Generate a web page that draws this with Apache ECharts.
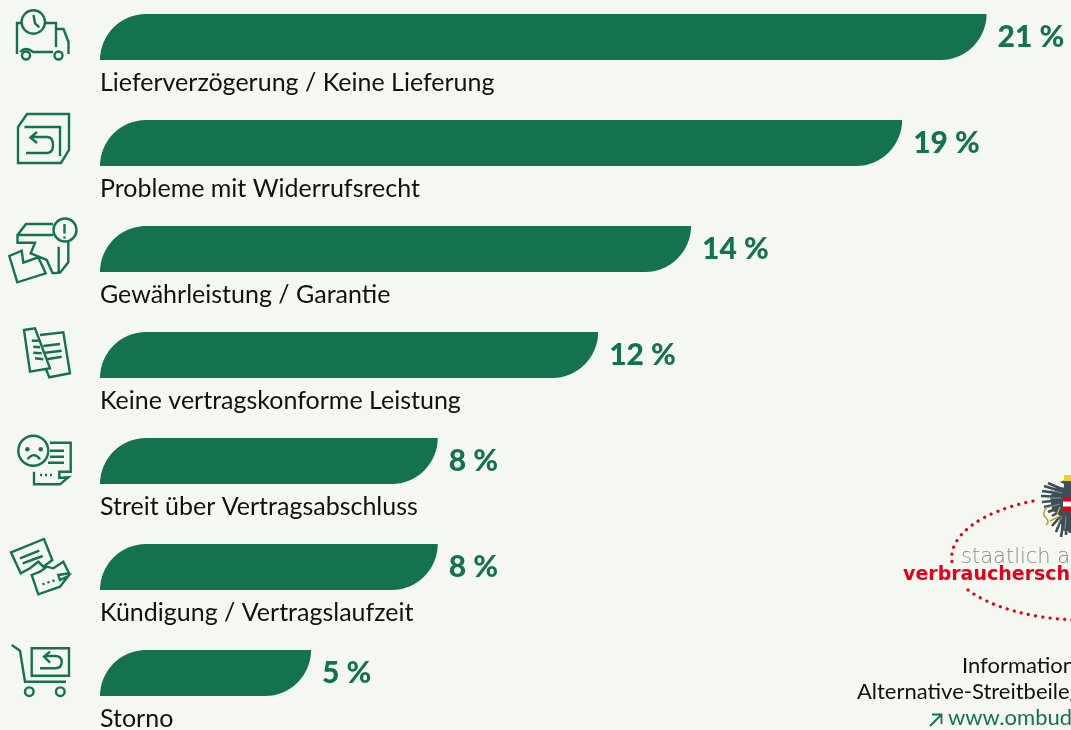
<!DOCTYPE html>
<html>
<head>
<meta charset="utf-8">
<style>
  html, body { margin: 0; padding: 0; background: #f5f8f0; overflow: hidden; }
  #main { width: 1071px; height: 730px; }
</style>
<script src="https://cdn.jsdelivr.net/npm/echarts@6/dist/echarts.min.js"></script>
</head>
<body>
<div id="main"></div>
<script>
const categories = [
  "Lieferverzögerung / Keine Lieferung",
  "Probleme mit Widerrufsrecht",
  "Gewährleistung / Garantie",
  "Keine vertragskonforme Leistung",
  "Streit über Vertragsabschluss",
  "Kündigung / Vertragslaufzeit",
  "Storno",
];
const barValues = [21, 19, 14, 11.8, 8, 8, 5];
const percentLabels = ["21 %", "19 %", "14 %", "12 %", "8 %", "8 %", "5 %"];

const GREEN = "#14724e";
const RED = "#e2001a";
const BG = "#f5f8f0";
const FONT = "Lato, 'Noto Sans', sans-serif";

// icons left of the bars, one stroke path each
const iconPaths = [
  "M17,54 V23 H21 M46,23 H56 V47 M56,29 H63.5 L68.5,42 V54 M20,52 Q26,46 33,52 H53",
  "M18,163 V127 L27,114 H69 V150 L61,163 Z M24.5,127 H60 V156 M26,153 H47 Q53,153 53,145 Q53,137 47,137 H31 M37,132 L30.5,137.5 L37,143",
  "M53,224 H26 L17.5,235 V242.7 H35 L30.7,253.3 L46.7,260 L52.7,273.3 L60,272.7 L68.3,262.3 V241.7 M18,235 H53 M58.7,246.7 V271.7 M9.3,256 L21.7,250.7 L23.3,262.7 L38.3,257.3 L45.7,273.3 L17.3,282.3 Z",
  "M24,330 L35,328.3 L50,368.3 L30,371.7 Z M40,335 L63.3,332.3 L70,373.3 L49.3,377.3 L46,369.3 M43.3,346 L60,344 M45,352.7 L61.7,350.7 M46.7,359.3 L61.7,356.7 M31.7,340.7 L38.3,340.7 M33.3,346.7 L40,347.3 M33.3,352.7 L41.7,353.3 M35,358.3 L43.3,359.3",
  "M50,442.7 H70.7 V471.7 H59.3 V478 L68.3,477.3 L60,484.3 H34 V471.7 M50,450.7 H64 M50,456.7 H64 M48,462.7 H64 M40,475 H42 M45,475 H47 M50,475 H52",
  "M11,552.3 L44,539 L52.3,560 L43.3,566.7 L38.3,561.7 L30,568.3 L20.7,573.3 Z M20,558.3 L39.3,550.7 M22.7,563.3 L42.7,556 M31.7,575 L40,571.7 L46.7,566.7 L53.3,568.3 L63.3,561.7 L69,573.3 L58.3,575 L60,580 L68.3,576 L60,586.7 L38.3,594.3 Z M42.5,584.3 L44.5,583.6 M47.5,582.6 L49.5,581.9 M52.5,581 L54.5,580.3",
  "M11.7,645 L20,650.7 L25,681.7 H66 M31.7,648.3 H69 V675.7 H31.7 Z M40,668.3 H55 Q61.7,668.3 61.7,661.7 Q61.7,656 55,656 H45 M50,651.7 L44,656.7 L50,662.7",
];
const iconCircles = [
  [33.3, 22, 11.7], [26, 55.5, 4], [58.5, 55.5, 4],
  [65, 230, 11.5],
  [33.3, 450.7, 15],
  [29.3, 691.7, 4.3], [60.3, 691.7, 4.3],
];
const iconDots = [[27.3, 449.3], [40.7, 449.3]];
// clock hands, exclamation mark and mouth go on top of the circles
const iconDetails = "M33.5,15 L35,23.5 L39.3,27.3 M64.5,224 V233.5 M64.5,236.5 V238.5 M27.5,459.3 Q34,451 40,459.3";

const eagleBody = "M1071,488 L1058,487 L1050,496 L1052,510 L1060,516 L1062,530 L1071,532 Z";
const eagleFeathers = "M1064,490 L1048,483 M1064,492 L1044,486 M1064,494 L1042,491 M1064,497 L1041,496 M1064,500 L1042,502 M1064,503 L1044,507 M1064,506 L1048,512 M1064,509 L1052,516 M1064,512 L1052,526 M1064,512 L1056,532 M1065,512 L1061,537 M1066,512 L1066,535 M1068,512 L1070,533";
const eagleLights = "M1062,493 L1050,490 M1061,498 L1047,498 M1060,504 L1049,507 M1062,516 L1057,527 M1066,516 L1065,529";
const eagleClaws = "M1047,507 Q1041,514 1046,518 Q1050,522 1046,525 M1050,521 L1060,516 M1057,514 L1060,507";
const eagleHead = "M1064,491 L1064,484 L1060,482 L1068,479 L1071,481 V492 Z";
const logoDots = "M1033,501 A138,62 0 0 0 952,562 M968,590 A138,62 0 0 0 1075,620";
const linkArrow = "M930,726 L941,715 M932,714.5 H941.5 V724";

// the graphic component has no plain path type, so each path gets its own shape class
let shapeCount = 0;
const pathEl = (d, style, z) => {
  const type = "chartPath" + shapeCount++;
  echarts.graphic.registerShape(type, echarts.graphic.extendPath(d, {}));
  return { type, style, z };
};
const strokeStyle = { fill: null, stroke: GREEN, lineWidth: 2.4 };

const graphic = [
  ...iconPaths.map((d) => pathEl(d, strokeStyle, 100)),
  ...iconCircles.map(([cx, cy, r]) => ({
    type: "circle",
    shape: { cx, cy, r },
    style: { fill: BG, stroke: GREEN, lineWidth: 2.4 },
    z: 101,
  })),
  ...iconDots.map(([cx, cy]) => ({
    type: "circle",
    shape: { cx, cy, r: 2.2 },
    style: { fill: GREEN },
    z: 102,
  })),
  pathEl(iconDetails, strokeStyle, 102),
  pathEl(logoDots, { fill: null, stroke: RED, lineWidth: 3.2, lineCap: "round", lineDash: [0.1, 7.2] }, 100),
  pathEl(eagleBody, { fill: "#3f4e57" }, 100),
  pathEl(eagleFeathers, { fill: null, stroke: "#3f4e57", lineWidth: 2.6 }, 100),
  pathEl(eagleLights, { fill: null, stroke: "#9aa7ad", lineWidth: 0.8 }, 101),
  pathEl(eagleClaws, { fill: null, stroke: "#b7a13a", lineWidth: 1.6 }, 101),
  pathEl(eagleHead, { fill: "#3f4e57" }, 101),
  { type: "rect", shape: { x: 1064, y: 475, width: 7, height: 6 }, style: { fill: "#f0d020" }, z: 102 },
  { type: "rect", shape: { x: 1063, y: 497, width: 8, height: 14 }, style: { fill: RED }, z: 102 },
  { type: "rect", shape: { x: 1063, y: 501.5, width: 8, height: 5 }, style: { fill: "#ffffff" }, z: 103 },
  // logo and footer text
  { type: "text", x: 961, y: 547, z: 100, style: { text: "staatlich anerkannte", fill: "#8c8c8c", font: "200 21px 'DejaVu Sans', sans-serif" } },
  { type: "text", x: 903, y: 566, z: 100, style: { text: "verbraucherschlichtung", fill: RED, font: "bold 19px 'DejaVu Sans', sans-serif" } },
  { type: "text", x: 962, y: 655, z: 100, style: { text: "Informationen", fill: "#111111", font: "22px " + FONT } },
  { type: "text", x: 857, y: 681, z: 100, style: { text: "Alternative-Streitbeilegung", fill: "#111111", font: "22px " + FONT } },
  { type: "text", x: 948, y: 707, z: 100, style: { text: "www.ombudsstelle.at", fill: GREEN, font: "22px " + FONT } },
  pathEl(linkArrow, { fill: null, stroke: GREEN, lineWidth: 1.8 }, 100),
];

const myChart = echarts.init(document.getElementById("main"));

myChart.setOption({
  backgroundColor: BG,
  animation: false,
  grid: { left: 100, top: -16, width: 971, height: 742, outerBoundsMode: "none" },
  xAxis: { type: "value", min: 0, max: 23, show: false },
  yAxis: {
    type: "category",
    inverse: true,
    data: categories,
    axisLine: { show: false },
    axisTick: { show: false },
    splitLine: { show: false },
    axisLabel: {
      inside: true,
      margin: 0,
      color: "#111111",
      fontFamily: FONT,
      fontSize: 25,
      align: "left",
      // tall line box drops the text below its bar
      verticalAlign: "top",
      lineHeight: 91,
    },
    z: 5,
  },
  series: [
    {
      type: "bar",
      data: barValues,
      barWidth: 46,
      itemStyle: { color: GREEN, borderRadius: [46, 0, 46, 0] },
      label: {
        show: true,
        position: "right",
        distance: 11,
        color: GREEN,
        fontFamily: FONT,
        fontWeight: 900,
        fontSize: 30,
        formatter: (params) => percentLabels[params.dataIndex],
      },
    },
  ],
  graphic,
});
</script>
</body>
</html>
